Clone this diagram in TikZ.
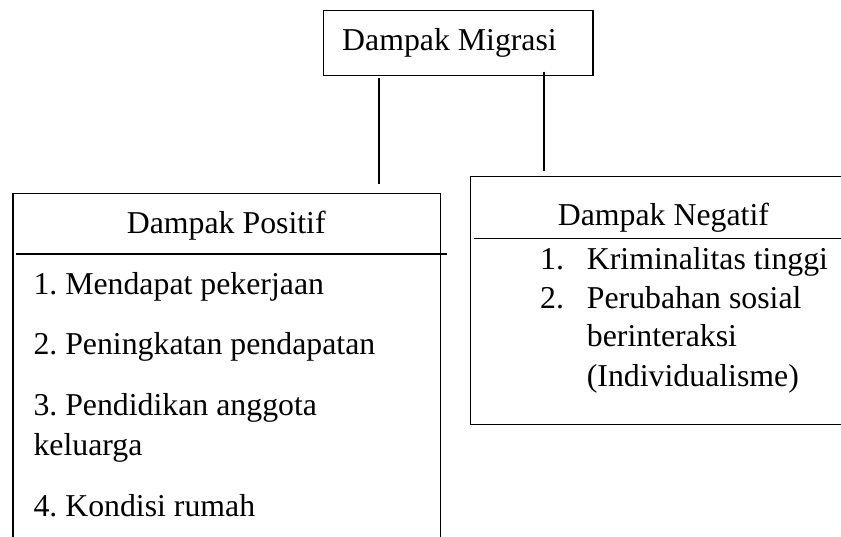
\documentclass[tikz,border=0pt]{standalone}
\usepackage{fontspec}
\setmainfont{Liberation Serif}
\frenchspacing
\begin{document}
\begin{tikzpicture}[x=1pt,y=-1pt,
  frame/.style={draw=black, line width=1.2pt, rectangle, inner sep=0pt, anchor=north west},
  rule/.style={draw=black, line width=1.7pt},
  link/.style={draw=black, line width=1.1pt},
  txt/.style={inner sep=0pt, anchor=base west, font=\frenchspacing\fontsize{31.8pt}{38pt}\selectfont}]
\useasboundingbox (0,0) rectangle (841,536);
\clip (0,0) rectangle (841,536);
\fill[white] (0,0) rectangle (841,536);
% boxes
\node[frame, minimum width=269.8pt, minimum height=65.3pt] (mig) at (322.5,9.7) {};
\node[frame, minimum width=427.7pt, minimum height=400pt] (pos) at (12.3,192.5) {};
\node[frame, minimum width=400pt, minimum height=248.3pt] (neg) at (470,175.7) {};
% dividers
\coordinate (pd1) at (16,254.3);
\coordinate (pd2) at (446.7,254.3);
\coordinate (nd1) at (474,238.5);
\coordinate (nd2) at (845,238.5);
\draw[rule] (pd1) -- (pd2);
\draw[rule] (nd1) -- (nd2);
% connectors
\coordinate (l1) at (379,78.3);
\coordinate (l2) at (379,184.3);
\coordinate (r1) at (544,71.7);
\coordinate (r2) at (544,170.7);
\draw[link] (l1) -- (l2);
\draw[link] (r1) -- (r2);
% texts
\node[txt] (tmig) at (342,50) {Dampak Migrasi};
\node[txt] (tpos) at (126.7,233) {Dampak Positif};
\node[txt] (p1) at (33.3,294) {1. Mendapat pekerjaan};
\node[txt] (p2) at (33.3,354.5) {2. Peningkatan pendapatan};
\node[txt] (p3) at (33.3,415) {3. Pendidikan anggota};
\node[txt] (p3b) at (33.3,455) {keluarga};
\node[txt] (p4) at (33.3,516) {4. Kondisi rumah};
\node[txt] (tneg) at (557.7,225.7) {Dampak Negatif};
\node[txt] (n1) at (540,269.3) {1.};
\node[txt] (n1t) at (586.7,269.3) {Kriminalitas tinggi};
\node[txt] (n2) at (540,308.3) {2.};
\node[txt] (n2t) at (586.7,308.3) {Perubahan sosial};
\node[txt] (n2b) at (586.7,346.7) {berinteraksi};
\node[txt] (n2c) at (586.7,386) {(Individualisme)};
\end{tikzpicture}
\end{document}
